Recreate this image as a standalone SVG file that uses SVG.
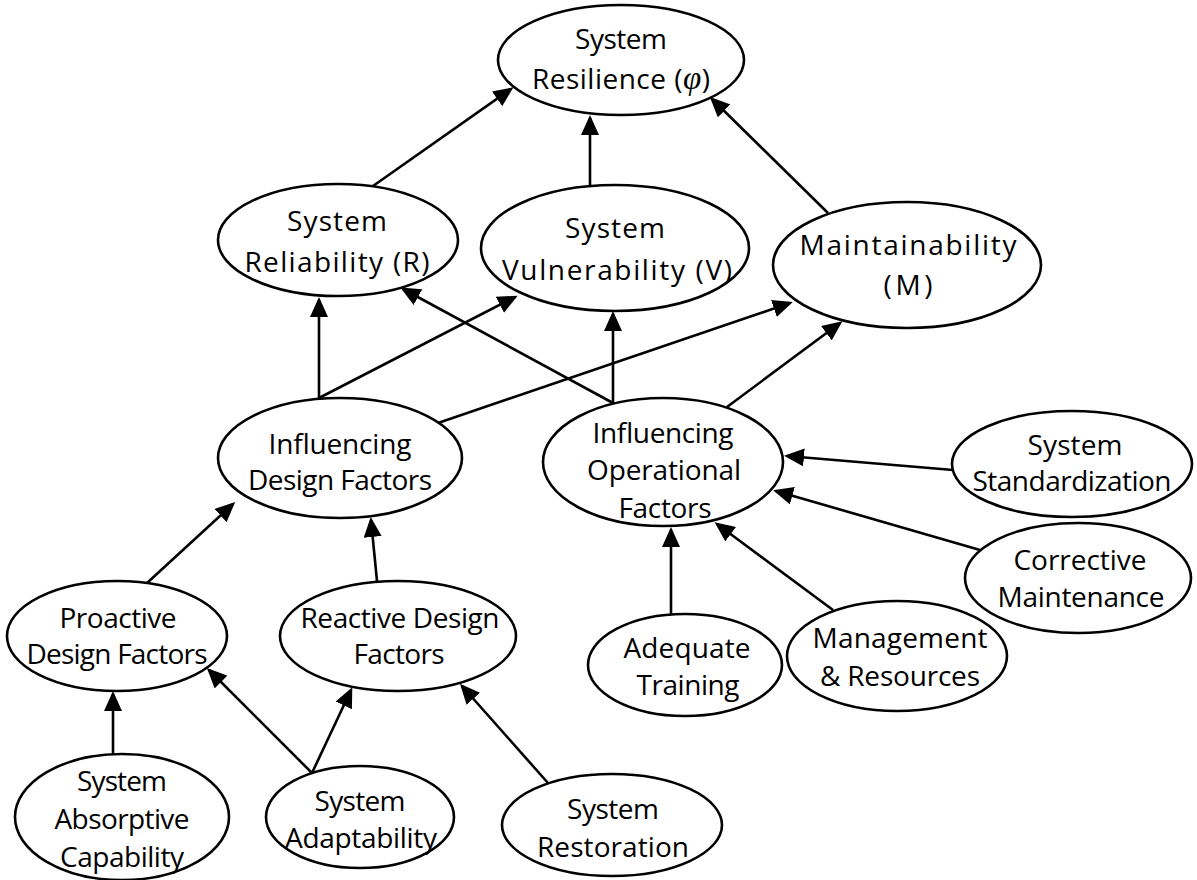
<svg xmlns="http://www.w3.org/2000/svg" width="1197" height="880" viewBox="0 0 1197 880">
  <style>
    .node { fill: #ffffff; stroke: #000000; stroke-width: 2.6; }
    .t { font-family: "Open Sans", "Noto Sans", sans-serif; font-size: 28px; text-anchor: middle; fill: #000000; }
    .phi { font-family: "Liberation Serif", "DejaVu Serif", serif; font-style: italic; font-size: 33px; }
    .edge { stroke: #000000; stroke-width: 2.6; fill: none; marker-end: url(#arrow); }
  </style>
  <defs>
    <marker id="arrow" markerUnits="userSpaceOnUse" viewBox="0 0 20 18" markerWidth="20" markerHeight="18" refX="17" refY="9" orient="auto">
      <path d="M0,0 L20,9 L0,18 z" fill="#000000"/>
    </marker>
  </defs>
  <rect width="1197" height="880" fill="#ffffff"/>

  <!-- connectors -->
  <g id="connectors">
    <line class="edge" x1="373" y1="186" x2="511" y2="89"/>
    <line class="edge" x1="590" y1="185" x2="590" y2="118"/>
    <line class="edge" x1="828" y1="213" x2="712" y2="99"/>
    <line class="edge" x1="319" y1="398" x2="319" y2="300"/>
    <line class="edge" x1="319" y1="398" x2="515" y2="297"/>
    <line class="edge" x1="438" y1="423" x2="790" y2="303"/>
    <line class="edge" x1="613" y1="403" x2="403" y2="289"/>
    <line class="edge" x1="613" y1="403" x2="613" y2="314"/>
    <line class="edge" x1="727" y1="407" x2="840" y2="323"/>
    <line class="edge" x1="953" y1="470" x2="787" y2="456"/>
    <line class="edge" x1="980" y1="550" x2="776" y2="491"/>
    <line class="edge" x1="833" y1="610" x2="717" y2="524"/>
    <line class="edge" x1="671" y1="614" x2="671" y2="530"/>
    <line class="edge" x1="147" y1="583" x2="233" y2="504"/>
    <line class="edge" x1="377" y1="581" x2="371" y2="520"/>
    <line class="edge" x1="113" y1="754" x2="113" y2="694"/>
    <line class="edge" x1="312" y1="773" x2="209" y2="670"/>
    <line class="edge" x1="312" y1="773" x2="351" y2="690"/>
    <line class="edge" x1="548" y1="783" x2="462" y2="686"/>
  </g>

  <!-- nodes -->
  <g id="resilience">
    <ellipse class="node" cx="621" cy="60" rx="123" ry="55"/>
    <text class="t" x="621" y="49" textLength="92">System</text>
    <text class="t" x="621" y="89" textLength="178">Resilience (<tspan class="phi">φ</tspan>)</text>
  </g>
  <g id="reliability">
    <ellipse class="node" cx="338" cy="240" rx="120" ry="56"/>
    <text class="t" x="337" y="231" textLength="100">System</text>
    <text class="t" x="337" y="272" textLength="185">Reliability (R)</text>
  </g>
  <g id="vulnerability">
    <ellipse class="node" cx="615" cy="248" rx="134" ry="63"/>
    <text class="t" x="615" y="238" textLength="100">System</text>
    <text class="t" x="617" y="280" textLength="230">Vulnerability (V)</text>
  </g>
  <g id="maintainability">
    <ellipse class="node" cx="907" cy="265" rx="134" ry="63"/>
    <text class="t" x="908" y="255" textLength="217">Maintainability</text>
    <text class="t" x="908" y="295" textLength="49">(M)</text>
  </g>
  <g id="design-factors">
    <ellipse class="node" cx="340" cy="458" rx="122" ry="60"/>
    <text class="t" x="340" y="454" textLength="143">Influencing</text>
    <text class="t" x="340" y="490" textLength="184">Design Factors</text>
  </g>
  <g id="operational-factors">
    <ellipse class="node" cx="663" cy="462" rx="120" ry="64"/>
    <text class="t" x="663" y="443" textLength="141">Influencing</text>
    <text class="t" x="664" y="480" textLength="154">Operational</text>
    <text class="t" x="665" y="518" textLength="93">Factors</text>
  </g>
  <g id="standardization">
    <ellipse class="node" cx="1072" cy="464" rx="120" ry="53"/>
    <text class="t" x="1075" y="455" textLength="95">System</text>
    <text class="t" x="1072" y="491" textLength="199">Standardization</text>
  </g>
  <g id="corrective-maintenance">
    <ellipse class="node" cx="1078" cy="578" rx="113" ry="55"/>
    <text class="t" x="1080" y="570" textLength="133">Corrective</text>
    <text class="t" x="1081" y="607" textLength="167">Maintenance</text>
  </g>
  <g id="management-resources">
    <ellipse class="node" cx="897" cy="656" rx="110" ry="55"/>
    <text class="t" x="900" y="648" textLength="175">Management</text>
    <text class="t" x="900" y="686" textLength="160">&amp; Resources</text>
  </g>
  <g id="adequate-training">
    <ellipse class="node" cx="685" cy="665" rx="97" ry="51"/>
    <text class="t" x="687" y="658" textLength="127">Adequate</text>
    <text class="t" x="688" y="695" textLength="103">Training</text>
  </g>
  <g id="proactive">
    <ellipse class="node" cx="117" cy="636" rx="110" ry="55"/>
    <text class="t" x="118" y="628" textLength="117">Proactive</text>
    <text class="t" x="117" y="664" textLength="181">Design Factors</text>
  </g>
  <g id="reactive">
    <ellipse class="node" cx="398" cy="636" rx="118" ry="55"/>
    <text class="t" x="400" y="628" textLength="199">Reactive Design</text>
    <text class="t" x="399" y="664" textLength="91">Factors</text>
  </g>
  <g id="absorptive">
    <ellipse class="node" cx="122" cy="817" rx="107" ry="63"/>
    <text class="t" x="122" y="791" textLength="90">System</text>
    <text class="t" x="122" y="829" textLength="135">Absorptive</text>
    <text class="t" x="122" y="867" textLength="124">Capability</text>
  </g>
  <g id="adaptability">
    <ellipse class="node" cx="360" cy="817" rx="94" ry="51"/>
    <text class="t" x="360" y="811" textLength="91">System</text>
    <text class="t" x="361" y="848" textLength="152">Adaptability</text>
  </g>
  <g id="restoration">
    <ellipse class="node" cx="612" cy="825" rx="110" ry="51"/>
    <text class="t" x="613" y="819" textLength="92">System</text>
    <text class="t" x="613" y="857" textLength="152">Restoration</text>
  </g>
</svg>
